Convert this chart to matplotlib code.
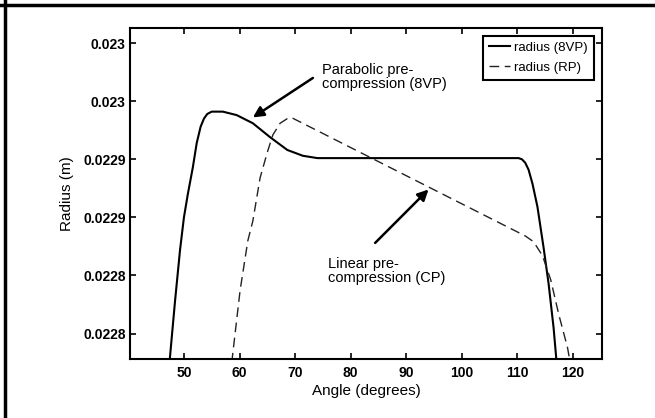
import matplotlib
matplotlib.use('Agg')
from matplotlib import pyplot as plt
from matplotlib.lines import Line2D

plt.rcParams['font.family'] = ['Liberation Sans', 'DejaVu Sans']

# radius (8VP), parabolic pre-compression
angle_8vp = [47.4, 48.4, 49.3, 50.0, 50.7, 51.6, 52.3, 53.0, 53.6, 54.2,
             55.0, 57.0, 59.5, 62.4, 65.5, 68.6, 71.4, 74.0, 78.0, 95.0,
             110.2, 110.8, 111.4, 112.0, 112.7, 113.6, 114.7, 115.6, 116.5,
             117.1]
radius_8vp = [0.022725, 0.022778, 0.022822, 0.022850, 0.022870, 0.022893,
              0.022914, 0.022928, 0.022935, 0.022939, 0.022941, 0.022941,
              0.022938, 0.022931, 0.022919, 0.022908, 0.022903, 0.022901,
              0.022901, 0.022901, 0.022901, 0.022900, 0.022897, 0.022891,
              0.022879, 0.022859, 0.022824, 0.022793, 0.022755, 0.022722]

# radius (RP), linear pre-compression
angle_rp = [58.6, 60.1, 61.5, 62.4, 63.7, 65.0, 66.0, 67.3, 68.6, 69.3,
            111.4, 112.9, 114.5, 116.0, 117.4, 119.0, 119.6]
radius_rp = [0.022725, 0.022787, 0.022830, 0.022847, 0.022884, 0.022906,
             0.022921, 0.022931, 0.022935, 0.022936, 0.022834, 0.022829,
             0.022817, 0.022796, 0.022767, 0.022738, 0.022722]

x_ticks = [50, 60, 70, 80, 90, 100, 110, 120]
y_ticks = [0.02300, 0.02295, 0.02290, 0.02285, 0.02280, 0.02275]
y_tick_labels = ['0.023', '0.023', '0.0229', '0.0229', '0.0228', '0.0228']

fig = plt.figure(figsize=(6.55, 4.18), dpi=100)
ax = fig.add_axes([0.1985, 0.141, 0.7205, 0.792])

ax.plot(angle_8vp, radius_8vp, c='black', lw=1.5, label='radius (8VP)')
ax.plot(angle_rp, radius_rp, c='#222222', lw=1.0, dashes=(7, 4),
        label='radius (RP)')

ax.set_xlim(40.3, 125.2)
ax.set_ylim(0.022728, 0.023013)
ax.set_xticks(x_ticks)
ax.set_yticks(y_ticks)
ax.set_yticklabels(y_tick_labels)
ax.tick_params(direction='in', top=True, right=True, length=4, width=1.2,
               labelsize=10)
ax.tick_params(axis='y', pad=3)
ax.tick_params(axis='x', pad=5)
for lbl in ax.get_xticklabels() + ax.get_yticklabels():
    lbl.set_fontweight('bold')
for s in ax.spines.values():
    s.set_linewidth(1.5)

ax.set_xlabel('Angle (degrees)', fontsize=11, labelpad=3)
ax.set_ylabel('Radius (m)', fontsize=11, labelpad=7)

arrow = dict(arrowstyle='-|>', lw=1.8, color='black', mutation_scale=16,
             shrinkA=0, shrinkB=0)
ax.annotate('', xy=(62.4, 0.022936), xytext=(73.2, 0.022970),
            arrowprops=arrow)
ax.text(74.9, 0.022971, 'Parabolic pre-\ncompression (8VP)', fontsize=10.5,
        ha='left', va='center', linespacing=1.05)
ax.annotate('', xy=(94.0, 0.022874), xytext=(84.4, 0.022828),
            arrowprops=arrow)
ax.text(75.9, 0.022804, 'Linear pre-\ncompression (CP)', fontsize=10.5,
        ha='left', va='center', linespacing=1.05)

leg = ax.legend(loc='upper right', fontsize=9.5, handlelength=1.6,
                handletextpad=0.35, borderpad=0.45, labelspacing=0.55,
                fancybox=False, framealpha=1, edgecolor='black',
                borderaxespad=0.6)
leg.get_frame().set_linewidth(1.5)

# black frame on top and left edge of the picture
fig.add_artist(Line2D([0, 1], [0.9875, 0.9875], color='black', lw=2.5,
                      transform=fig.transFigure))
fig.add_artist(Line2D([0.0075, 0.0075], [0, 1], color='black', lw=2.5,
                      transform=fig.transFigure))

fig.savefig('out.png', dpi=100)
